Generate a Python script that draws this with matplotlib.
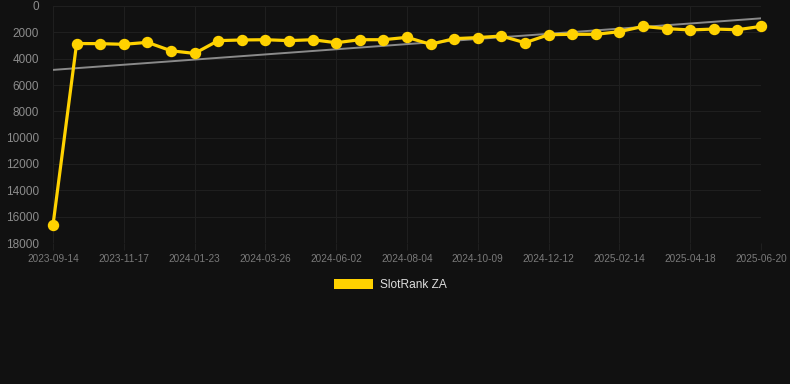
import matplotlib.pyplot as plt
import numpy as np

plt.rcParams["font.family"] = ["Liberation Sans", "DejaVu Sans"]

# ranks (lower is better, axis is inverted)
dates = ["2023-09-14", "", "", "2023-11-17", "", "", "2024-01-23", "", "",
         "2024-03-26", "", "", "2024-06-02", "", "", "2024-08-04", "", "",
         "2024-10-09", "", "", "2024-12-12", "", "", "2025-02-14", "", "",
         "2025-04-18", "", "", "2025-06-20"]
ranks = [16630, 2850, 2860, 2910, 2760, 3400, 3600, 2630, 2580, 2560, 2630,
         2560, 2790, 2560, 2560, 2380, 2910, 2480, 2400, 2280, 2790, 2180,
         2150, 2150, 1950, 1550, 1720, 1820, 1750, 1800, 1550]
series_name = "SlotRank ZA"

BG = "#111111"
GOLD = "#FFD200"
GRID = "#1f1f1f"

fig = plt.figure(figsize=(7.9, 3.84), dpi=100, facecolor=BG)
ax = fig.add_axes([53 / 790, 1 - 243 / 384, 708 / 790, 237 / 384])
ax.set_facecolor(BG)

x = np.arange(len(ranks))
coef = np.polyfit(x, ranks, 1)
ax.plot(x, np.polyval(coef, x), color="#8a8a8a", lw=1.4, zorder=2)

ax.plot(x, ranks, color=GOLD, lw=2.3, marker="o", markersize=7.2,
        zorder=3, clip_on=False)

ax.set_xlim(0, len(ranks) - 1)
ax.set_ylim(18000, 0)
ax.set_yticks(np.arange(0, 18001, 2000))
ax.set_xticks(x[::3])
ax.set_xticklabels([dates[i] for i in x[::3]])

ax.grid(True, color=GRID, lw=0.8)
ax.set_axisbelow(True)
for s in ax.spines.values():
    s.set_visible(False)
ax.tick_params(axis="y", length=0, pad=10, labelsize=8.5, labelcolor="#8c8c8c")
ax.tick_params(axis="x", length=5, color=GRID, pad=3, labelsize=7.2,
               labelcolor="#7a7a7a")

handle = plt.Rectangle((0, 0), 1, 1, facecolor=GOLD, edgecolor="none")
fig.legend([handle], [series_name], loc="center", bbox_to_anchor=(0.494, 0.258),
           frameon=False, fontsize=8.6, labelcolor="#dddddd",
           handlelength=3.3, handleheight=0.9, handletextpad=0.6)

fig.savefig("out.png", dpi=100, facecolor=BG)
